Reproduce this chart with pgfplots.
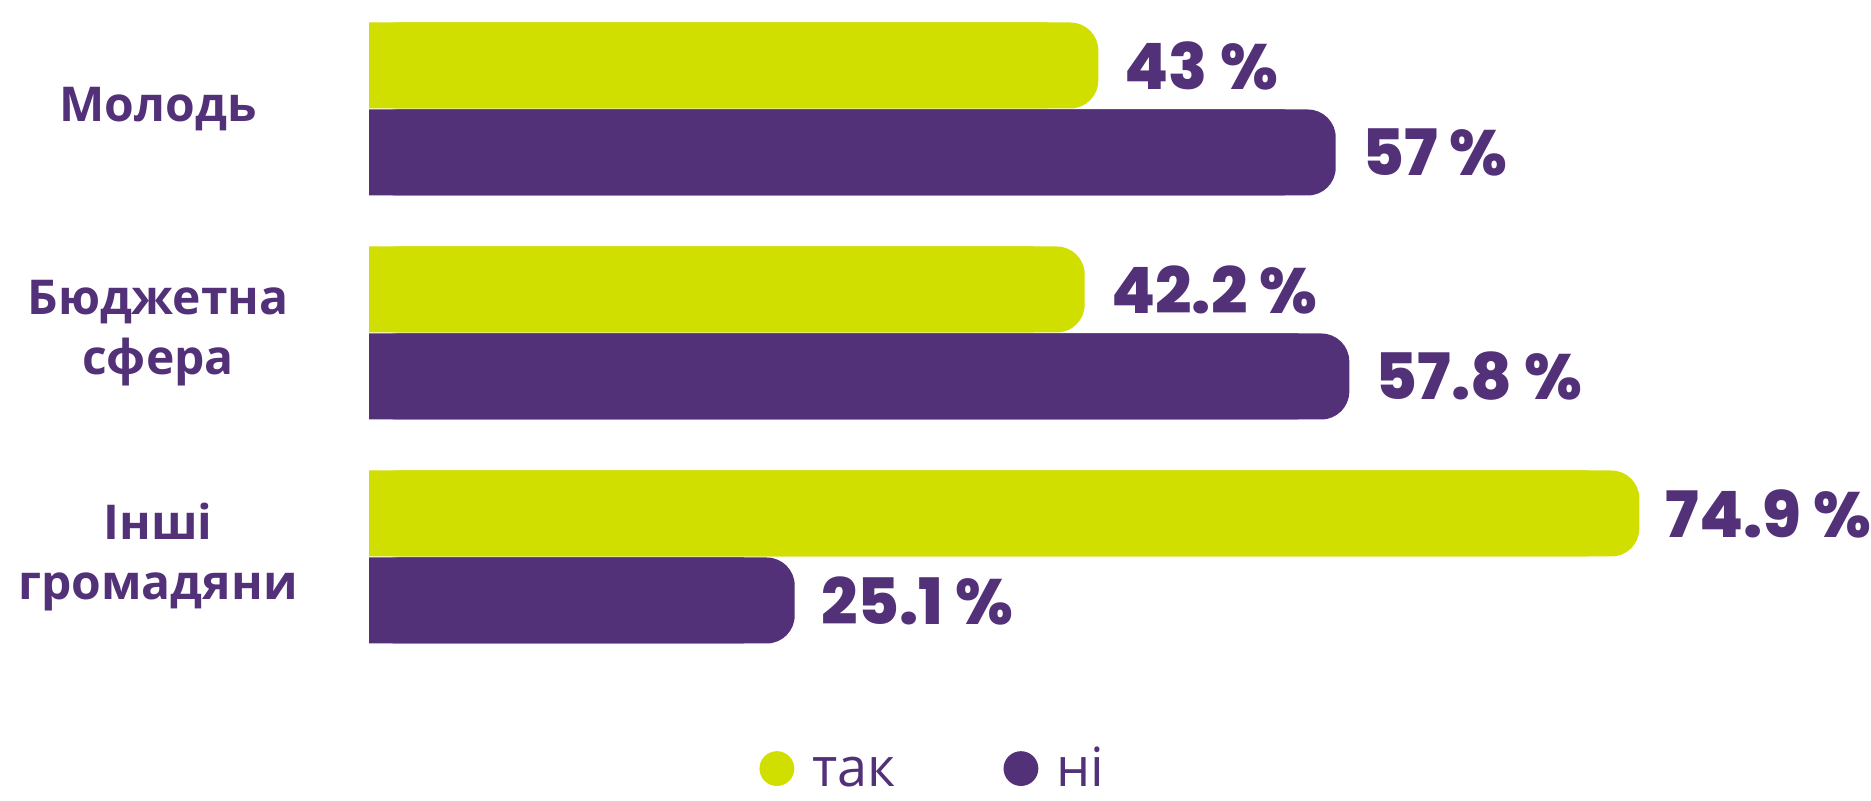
\documentclass[border=0pt]{standalone}
\usepackage{pgfplots}
\pgfplotsset{compat=1.18}
\usepackage{pgfplotstable}
\usepackage{fontspec}
\setmainfont{Open Sans}
\newfontfamily\valfont{Poppins}[BoldFont={Poppins ExtraBold}]
\definecolor{pur}{HTML}{523178}
\definecolor{grn}{HTML}{D0DE00}
\pgfplotstableread{
y v
2 43
1 42.2
0 74.9
}\datatak
\pgfplotstableread{
y v
2 57
1 57.8
0 25.1
}\datani
\begin{document}
\begin{tikzpicture}
\begin{axis}[
  at={(184.5pt,400.5pt)}, anchor=north west,
  scale only axis, width=751pt, height=400.5pt,
  xmin=0, xmax=88.56, ymin=-1.0893, ymax=2.4866,
  axis line style={draw=none},
  tick style={draw=none},
  xtick=\empty,
  ytick={0,1,2},
  yticklabels={{Інші\\громадяни},{Бюджетна\\сфера},{Молодь}},
  yticklabel style={font=\bfseries\fontsize{24}{30}\selectfont, text=pur, align=center, anchor=center, xshift=-105.5pt},
  clip=false,
  /pgf/number format/assume math mode=true,
  every node near coord/.append style={font=\valfont\bfseries\fontsize{32}{34}\selectfont, text=pur, anchor=west, inner sep=0pt, xshift=13pt},
  legend cell align=left,
  legend columns=2,
  legend style={at={(rel axis cs:0.2597,0.0175)}, anchor=south west, draw=none, fill=none,
    font=\fontsize{27}{30}\selectfont, text=pur, inner sep=0pt,
    nodes={inner sep=0pt, text height=20pt, text depth=0pt},
    /tikz/every odd column/.append style={column sep=9pt},
    /tikz/every even column/.append style={column sep=54pt}},
]
\addplot[xbar, bar width=43pt, bar shift=21.75pt, fill=grn, draw=none, forget plot]
  table[x expr=\thisrow{v}-3, y=y] {\datatak};
\addplot[xbar, bar width=43pt, bar shift=21.75pt, fill=grn, draw=none, rounded corners=14pt,
  legend image code/.code={\fill[grn] (8.7pt,-1pt) circle[radius=8.7pt];}]
  table[x=v, y=y] {\datatak};
\addlegendentry{так}
\addplot[xbar, bar width=43pt, bar shift=-21.75pt, fill=pur, draw=none, forget plot]
  table[x expr=\thisrow{v}-3, y=y] {\datani};
\addplot[xbar, bar width=43pt, bar shift=-21.75pt, fill=pur, draw=none, rounded corners=14pt,
  legend image code/.code={\fill[pur] (8.7pt,-1pt) circle[radius=8.7pt];}]
  table[x=v, y=y] {\datani};
\addlegendentry{ні}
% value labels
\addplot[draw=none, mark=none, forget plot,
  nodes near coords={\pgfmathprintnumber{\pgfplotspointmeta}~\%}, point meta=x]
  table[x=v, y expr=\thisrow{y}+0.1942] {\datatak};
\addplot[draw=none, mark=none, forget plot,
  nodes near coords={\pgfmathprintnumber{\pgfplotspointmeta}~\%}, point meta=x]
  table[x=v, y expr=\thisrow{y}-0.1942] {\datani};
\end{axis}
\pgfresetboundingbox
\path[use as bounding box] (0,0) rectangle (935.5pt,400.5pt);
\end{tikzpicture}
\end{document}
